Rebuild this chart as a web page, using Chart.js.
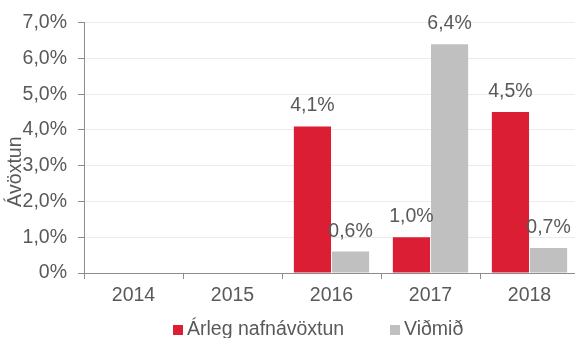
<!DOCTYPE html>
<html>
<head>
<meta charset="utf-8">
<script src="https://cdn.jsdelivr.net/npm/chart.js@4/dist/chart.umd.min.js"></script>
<style>
  html, body { margin: 0; padding: 0; background: #fff; overflow: hidden; }
  #wrap { width: 582px; height: 338px; }
</style>
</head>
<body>
<div id="wrap"><canvas id="c" width="582" height="338"></canvas></div>
<script>
// Annual returns by year (percent)
const years = ['2014', '2015', '2016', '2017', '2018'];
const nominalReturn = [null, null, 4.1, 1.0, 4.5];
const benchmark = [null, null, 0.6, 6.4, 0.7];
const seriesNames = ['Árleg nafnávöxtun', 'Viðmið'];
const yAxisTitle = 'Ávöxtun';

const FONT = '"Liberation Sans", Arial, sans-serif';
const TEXT = '#595959';
const fmt = v => (v === 0 ? '0%' : v.toFixed(1).replace('.', ',') + '%');

// Value labels above bars, rotated axis title and a simple legend row
const extras = {
  id: 'extras',
  afterDatasetsDraw(chart) {
    const ctx = chart.ctx;
    ctx.save();
    ctx.font = '19.5px ' + FONT;
    ctx.fillStyle = TEXT;
    ctx.textAlign = 'center';
    ctx.textBaseline = 'alphabetic';
    chart.data.datasets.forEach((ds, i) => {
      chart.getDatasetMeta(i).data.forEach((bar, j) => {
        const v = ds.data[j];
        if (v == null) return;
        ctx.fillText(fmt(v), bar.x, bar.y - 15);
      });
    });
    ctx.restore();
  },
  afterDraw(chart) {
    const ctx = chart.ctx;
    const area = chart.chartArea;
    ctx.save();
    ctx.font = '19.5px ' + FONT;
    ctx.fillStyle = TEXT;
    // axis title
    ctx.translate(16, area.top + 149);
    ctx.rotate(-Math.PI / 2);
    ctx.textAlign = 'center';
    ctx.textBaseline = 'middle';
    ctx.fillText(yAxisTitle, 0, 0);
    ctx.restore();

    // legend
    ctx.save();
    ctx.font = '19.5px ' + FONT;
    ctx.textBaseline = 'middle';
    ctx.textAlign = 'left';
    const y = 330;
    const starts = [173, 390];
    chart.data.datasets.forEach((ds, i) => {
      const x = starts[i];
      ctx.fillStyle = ds.backgroundColor;
      ctx.fillRect(x, y - 5, 10, 10);
      ctx.fillStyle = TEXT;
      ctx.fillText(ds.label, x + 14, y);
    });
    ctx.restore();
  }
};

new Chart(document.getElementById('c'), {
  type: 'bar',
  data: {
    labels: years,
    datasets: [
      { label: seriesNames[0], data: nominalReturn, backgroundColor: '#dc1e35' },
      { label: seriesNames[1], data: benchmark, backgroundColor: '#bfc0bf' }
    ]
  },
  options: {
    responsive: false,
    animation: false,
    layout: { padding: { top: 22, right: 3, bottom: 29, left: 0 } },
    datasets: { bar: { categoryPercentage: 0.77, barPercentage: 0.975 } },
    plugins: { legend: { display: false }, tooltip: { enabled: false } },
    scales: {
      x: {
        afterFit(s) { s.height = 36; },
        grid: {
          offset: true,
          drawOnChartArea: false,
          tickLength: 6,
          tickColor: '#8c8c8c'
        },
        border: { color: '#8c8c8c', width: 1 },
        ticks: { color: TEXT, font: { family: FONT, size: 19.5 }, padding: 5 }
      },
      y: {
        min: 0,
        max: 7,
        afterFit(s) { s.width = 84; },
        grid: {
          color: '#ebebeb',
          tickColor: '#8c8c8c',
          tickLength: 6
        },
        border: { color: '#8c8c8c', width: 1 },
        ticks: {
          stepSize: 1,
          color: TEXT,
          font: { family: FONT, size: 19.5 },
          padding: 11,
          callback: v => fmt(v)
        }
      }
    }
  },
  plugins: [extras]
});
</script>
</body>
</html>
